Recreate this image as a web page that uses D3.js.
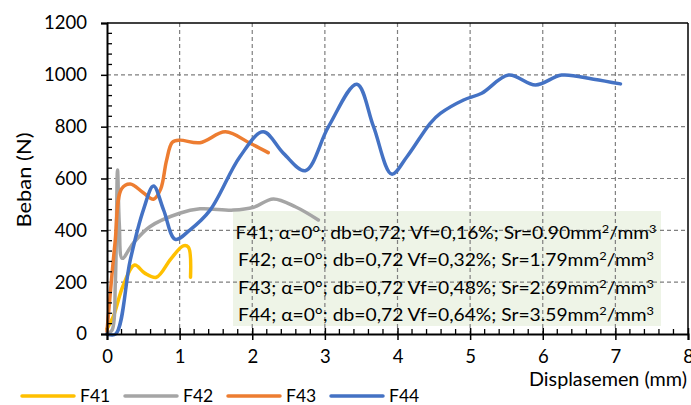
<!DOCTYPE html>
<html><head><meta charset="utf-8">
<script src="https://cdn.jsdelivr.net/npm/d3@7"></script>
<style>body{margin:0;background:#fff}svg{display:block}text{font-family:Lato,"Open Sans",sans-serif;fill:#000}</style>
</head><body><svg id="c" width="691" height="405"></svg>
<script>
const seriesNames = ["F41","F42","F43","F44"];
const seriesColors = ["#FFC000","#A5A5A5","#ED7D31","#4472C4"];
const F41 = [[0,20],[0.09,70],[0.22,185],[0.38,266],[0.52,235],[0.68,219],[0.88,290],[1.05,340],[1.12,335],[1.15,219]];
const F42 = [[0,0],[0.07,15],[0.115,200],[0.145,633],[0.17,420],[0.21,292],[0.36,350],[0.59,414],[1.0,466],[1.28,483],[1.74,478],[2.02,489],[2.29,521],[2.6,490],[2.91,440]];
const F43 = [[0,10],[0.11,350],[0.2,560],[0.32,579],[0.5,545],[0.64,520],[0.74,560],[0.82,670],[0.9,740],[1.0,748],[1.28,738],[1.63,780],[1.97,736],[2.22,700]];
const F44 = [[0,0],[0.12,0],[0.32,285],[0.5,478],[0.64,571],[0.78,478],[0.94,365],[1.14,401],[1.42,478],[1.83,684],[2.15,780],[2.43,697],[2.73,630],[3.05,800],[3.44,964],[3.67,800],[3.92,617],[4.13,684],[4.45,813],[4.59,851],[4.91,903],[5.16,929],[5.53,999],[5.9,961],[6.26,999],[6.7,983],[7.07,965]];
const seriesData = [F41,F42,F43,F44];
// each annotation line: [text before sup2, sup, middle, sup]
const boxLines = [
 ["F41; α=0°; db=0,72; Vf=0,16%; Sr=0.90mm","2","/mm","3"],
 ["F42; α=0°; db=0,72 Vf=0,32%; Sr=1.79mm","2","/mm","3"],
 ["F43; α=0°; db=0,72 Vf=0,48%; Sr=2.69mm","2","/mm","3"],
 ["F44; α=0°; db=0,72 Vf=0,64%; Sr=3.59mm","2","/mm","3"]];
const boxWidths = [421,416,416,416];
const xTicks = [0,1,2,3,4,5,6,7,8];
const yTicks = [0,200,400,600,800,1000,1200];
const xLabel = "Displasemen (mm)", yLabel = "Beban (N)";

const svg = d3.select("#c");
const L=107,R=688,T=23,B=334;
const x = d3.scaleLinear().domain([0,8]).range([L,R]);
const y = d3.scaleLinear().domain([0,1200]).range([B,T]);

// annotation box background
svg.append("rect").attr("x",233).attr("y",211).attr("width",428).attr("height",115).attr("fill","#eef4e7");

// grid
const g = svg.append("g");
g.selectAll(".gx").data(xTicks.filter(d=>d>0&&d<8)).join("line")
 .attr("x1",d=>x(d)).attr("x2",d=>x(d)).attr("y1",T).attr("y2",B)
 .attr("stroke","#7f7f7f").attr("stroke-width",1.2).attr("stroke-dasharray","4,3");
g.selectAll(".gy").data(yTicks.filter(d=>d>0&&d<1200)).join("line")
 .attr("y1",d=>y(d)).attr("y2",d=>y(d)).attr("x1",L).attr("x2",R)
 .attr("stroke","#7f7f7f").attr("stroke-width",1.2).attr("stroke-dasharray","4,3");
// frame top/right
svg.append("line").attr("x1",L).attr("x2",R).attr("y1",T).attr("y2",T).attr("stroke","#000").attr("stroke-width",1.5);
svg.append("line").attr("x1",R).attr("x2",R).attr("y1",T).attr("y2",B).attr("stroke","#000").attr("stroke-width",1.5);

// series
const line = d3.line().x(d=>x(d[0])).y(d=>y(d[1])).curve(d3.curveCatmullRom.alpha(0.5));
seriesData.forEach((s,i)=>{
 svg.append("path").attr("d",line(s)).attr("fill","none").attr("stroke",seriesColors[i])
  .attr("stroke-width",3.5).attr("stroke-linejoin","round").attr("stroke-linecap","round");
});

// axes
const yAxis = svg.append("g").attr("transform",`translate(${L},0)`)
 .call(d3.axisLeft(y).tickValues(yTicks).tickSize(6).tickPadding(14).tickFormat(d3.format("d")));
const xAxis = svg.append("g").attr("transform",`translate(0,${B})`)
 .call(d3.axisBottom(x).tickValues(xTicks).tickSize(6).tickPadding(10).tickFormat(d3.format("d")));
[yAxis,xAxis].forEach(a=>{
 a.select(".domain").attr("stroke","#000").attr("stroke-width",2);
 a.selectAll(".tick line").attr("stroke","#000").attr("stroke-width",1.5);
 a.selectAll("text").style("font-size","18.5px").attr("fill","#000");
});
xAxis.selectAll(".tick line").attr("y1",-6);
// minor ticks
const yMinor = d3.range(40,1200,40).filter(v=>v%200!==0);
svg.append("g").selectAll("line").data(yMinor).join("line")
 .attr("x1",L).attr("x2",L+5).attr("y1",d=>y(d)).attr("y2",d=>y(d)).attr("stroke","#000").attr("stroke-width",1.3);
const xMinor = d3.range(0.2,8,0.2).filter(v=>Math.abs(v-Math.round(v))>0.01);
svg.append("g").selectAll("line").data(xMinor).join("line")
 .attr("x1",d=>x(d)).attr("x2",d=>x(d)).attr("y1",B).attr("y2",B-5).attr("stroke","#000").attr("stroke-width",1.3);

// axis titles
svg.append("text").attr("x",687).attr("y",386).attr("text-anchor","end").style("font-size","18.5px")
 .attr("textLength",158).attr("lengthAdjust","spacingAndGlyphs").text(xLabel);
svg.append("text").attr("transform","translate(31,180) rotate(-90)").attr("text-anchor","middle").style("font-size","19px")
 .attr("textLength",95).attr("lengthAdjust","spacingAndGlyphs").text(yLabel);

// box text
const bt = svg.append("g").selectAll("text").data(boxLines).join("text")
 .attr("x",446).attr("y",(d,i)=>238.5+i*27.6).attr("text-anchor","middle").style("font-size","18px")
 .attr("textLength",(d,i)=>boxWidths[i]).attr("lengthAdjust","spacingAndGlyphs");
bt.append("tspan").text(d=>d[0]);
bt.append("tspan").attr("dy",-6).style("font-size","12px").text(d=>d[1]);
bt.append("tspan").attr("dy",6).text(d=>d[2]);
bt.append("tspan").attr("dy",-6).style("font-size","12px").text(d=>d[3]);

// legend
const lx = [22,125,228,331];
const lg = svg.append("g").selectAll("g").data(seriesNames).join("g").attr("transform",(d,i)=>`translate(${lx[i]},396)`);
lg.append("line").attr("x1",0).attr("x2",52).attr("stroke",(d,i)=>seriesColors[i]).attr("stroke-width",3.5).attr("stroke-linecap","round");
lg.append("text").attr("x",58).attr("y",6).style("font-size","17.5px").text(d=>d);
</script></body></html>
